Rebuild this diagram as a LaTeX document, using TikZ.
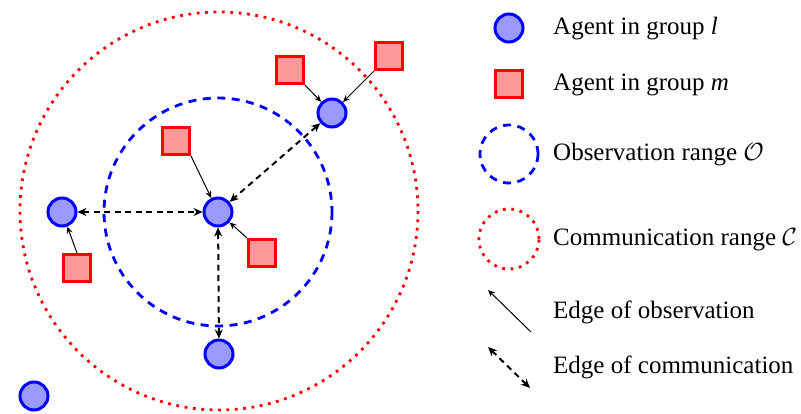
\documentclass[tikz,border=0pt]{standalone}
\usepackage{fontspec}
\setmainfont{Liberation Serif}
\usetikzlibrary{arrows.meta}
\definecolor{agfill}{RGB}{153,153,255}
\definecolor{sqfill}{RGB}{255,153,153}
\tikzset{
  agent/.style={circle, draw=blue, fill=agfill, line width=3pt, minimum size=28pt, inner sep=0pt},
  sqagent/.style={rectangle, draw=red, fill=sqfill, line width=3pt, minimum size=27pt, inner sep=0pt},
  obsrange/.style={draw=blue, line width=2.8pt, dash pattern=on 8pt off 6.5pt},
  comrange/.style={draw=red, line width=2.8pt, dash pattern=on 2.8pt off 5.6pt},
  obsedge/.style={draw=black, line width=1pt, -{Stealth[length=7pt,width=6pt]}},
  comedge/.style={draw=black, line width=2pt, dash pattern=on 6pt off 4.5pt, {Stealth[length=9pt,width=8pt]}-{Stealth[length=9pt,width=8pt]}},
  legtext/.style={anchor=west, inner sep=0pt, font=\fontsize{25}{30}\selectfont},
}
\begin{document}
\begin{tikzpicture}[x=1pt,y=-1pt]
\useasboundingbox (0,0) rectangle (801,414);
% ranges
\draw[comrange] (219,211) circle (199);
\draw[obsrange] (218,212) circle (114);
% agents group l
\node[agent] (c) at (218,212) {};
\node[agent] (tr) at (332,113) {};
\node[agent] (l) at (62,212) {};
\node[agent] (b) at (219,354) {};
\node[agent] (bl) at (34,396) {};
% agents group m
\node[sqagent] (s1) at (176,141) {};
\node[sqagent] (s2) at (262,253) {};
\node[sqagent] (s3) at (290,70) {};
\node[sqagent] (s4) at (389,56) {};
\node[sqagent] (s5) at (77,268) {};
% observation edges
\draw[obsedge] (s1.south east) -- (c);
\draw[obsedge] (s2.north west) -- (c);
\draw[obsedge] (s3.south east) -- (tr);
\draw[obsedge] (s4.south west) -- (tr);
\draw[obsedge] (s5.north) -- (l);
% communication edges
\draw[comedge] (l) -- (c);
\draw[comedge] (tr) -- (c);
\draw[comedge] (c) -- (b);
% legend
\node[agent] (la) at (509,28) {};
\node[legtext] (ta) at (553,29) {Agent in group \textit{l}};
\node[sqagent] (ls) at (509,84) {};
\node[legtext] (ts) at (553,85) {Agent in group \textit{m}};
\node[circle, minimum size=58pt, inner sep=0pt, obsrange] (lo) at (509,154) {};
\node[legtext] (to) at (553,155) {Observation range $\mathcal{O}$};
\node[circle, minimum size=60pt, inner sep=0pt, comrange] (lc) at (509,239) {};
\node[legtext] (tc) at (553,240) {Communication range $\mathcal{C}$};
\coordinate (oa) at (531,332);
\coordinate (ob) at (488,290);
\draw[obsedge] (oa) -- (ob);
\node[legtext] (te) at (553,312) {Edge of observation};
\coordinate (ca) at (488,347);
\coordinate (cb) at (530,388);
\draw[comedge] (ca) -- (cb);
\node[legtext] (tm) at (553,367) {Edge of communication};
\end{tikzpicture}
\end{document}
